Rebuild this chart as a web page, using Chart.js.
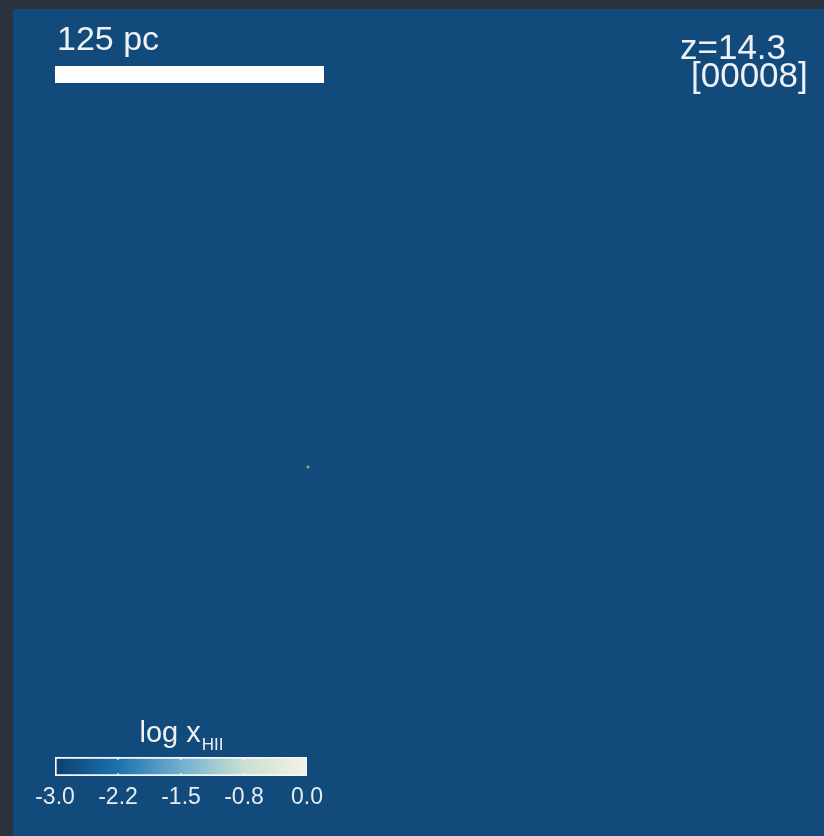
<!DOCTYPE html>
<html>
<head>
<meta charset="utf-8">
<script src="https://cdn.jsdelivr.net/npm/chart.js@4.4.0/dist/chart.umd.min.js"></script>
<style>
  body { margin: 0; background: #2c333e; }
  #wrap { position: relative; width: 824px; height: 836px; overflow: hidden; }
  canvas { position: absolute; }
</style>
</head>
<body>
<div id="wrap">
  <canvas id="slice" width="824" height="836" style="left:0;top:0"></canvas>
  <canvas id="cbar" width="340" height="136" style="left:0;top:700px"></canvas>
</div>
<script>
// snapshot info
const redshift = 14.3;
const snapNum = '00008';

// scale bar length in pc and the one ionised cell (pc, from lower-left of the box)
const scaleBarPc = [125];
const sourcePos = [{ x: 137.1, y: 171.5 }];

// colour bar: log x_HII range, ticks and their labels
const cbarRange = [-3.0, 0.0];
const cbarTicks = [-3.0, -2.25, -1.5, -0.75, 0.0];
const cbarTickLabels = ['-3.0', '-2.2', '-1.5', '-0.8', '0.0'];
const cbarStops = ['#0d3f70', '#1c72ac', '#72afd0', '#cbdfd0', '#f2f3e6'];

// box geometry
const pxPerPc = 269 / 125;
const panel = { left: 13, top: 9, right: 824, bottom: 836 };
const boxW = (panel.right - panel.left) / pxPerPc;
const boxH = (panel.bottom - panel.top) / pxPerPc;
const barX0 = (55 - panel.left) / pxPerPc;
const barY = boxH - (74.5 - panel.top) / pxPerPc;

const FONT = '"Liberation Sans", Arial, sans-serif';
const panelColor = '#124a7b';

const panelBg = {
    id: 'panelBg',
    beforeDraw(chart) {
        const { ctx, chartArea: a } = chart;
        ctx.save();
        ctx.fillStyle = panelColor;
        ctx.fillRect(a.left, a.top, a.right - a.left, a.bottom - a.top);
        ctx.restore();
    }
};

const slabels = {
    id: 'slabels',
    afterDraw(chart) {
        const ctx = chart.ctx;
        ctx.save();
        ctx.fillStyle = '#eef2f6';
        ctx.textAlign = 'left';
        ctx.textBaseline = 'alphabetic';
        ctx.font = '34px ' + FONT;
        ctx.fillText(scaleBarPc[0] + ' pc', 57, 50);
        ctx.font = '35px ' + FONT;
        ctx.fillText('z=' + redshift.toFixed(1), 680, 59);
        ctx.fillText('[' + snapNum + ']', 691, 87);
        ctx.restore();
    }
};

new Chart(document.getElementById('slice'), {
    type: 'scatter',
    data: {
        datasets: [
            {
                // scale bar
                type: 'line',
                data: [{ x: barX0, y: barY }, { x: barX0 + scaleBarPc[0], y: barY }],
                borderColor: '#ffffff',
                borderWidth: 17,
                borderCapStyle: 'butt',
                pointRadius: 0,
            },
            {
                data: sourcePos,
                backgroundColor: 'rgba(170,180,90,0.8)',
                borderWidth: 0,
                pointRadius: 1.6,
            },
        ]
    },
    options: {
        responsive: false,
        animation: false,
        layout: { autoPadding: false, padding: { left: panel.left, top: panel.top, right: 0, bottom: 0 } },
        plugins: { legend: { display: false }, tooltip: { enabled: false } },
        scales: {
            x: { type: 'linear', min: 0, max: boxW, display: false },
            y: { type: 'linear', min: 0, max: boxH, display: false },
        }
    },
    plugins: [panelBg, slabels]
});

function cbarGradient(ctx) {
    const a = ctx.chart.chartArea;
    if (!a) return cbarStops[0];
    const g = ctx.chart.ctx.createLinearGradient(a.left, 0, a.right, 0);
    cbarStops.forEach((c, i) => g.addColorStop(i / (cbarStops.length - 1), c));
    return g;
}

const cbarDeco = {
    id: 'cbarDeco',
    afterDatasetsDraw(chart) {
        const { ctx, chartArea: a } = chart;
        const xs = chart.scales.x;
        ctx.save();
        // little tick marks inside the bar
        ctx.strokeStyle = 'rgba(255,255,255,0.8)';
        ctx.lineWidth = 1.5;
        cbarTicks.slice(1, -1).forEach(v => {
            const px = xs.getPixelForValue(v);
            ctx.beginPath();
            ctx.moveTo(px, a.top); ctx.lineTo(px, a.top + 3);
            ctx.moveTo(px, a.bottom); ctx.lineTo(px, a.bottom - 3);
            ctx.stroke();
        });
        // title: log x_HII
        ctx.fillStyle = '#eef2f6';
        ctx.textBaseline = 'alphabetic';
        const main = 'log x';
        ctx.font = '17px ' + FONT;
        const subW = ctx.measureText('HII').width;
        ctx.font = '29px ' + FONT;
        const mainW = ctx.measureText(main).width;
        const x0 = (a.left + a.right) / 2 - (mainW + subW) / 2;
        ctx.textAlign = 'left';
        ctx.fillText(main, x0, 42);
        ctx.font = '17px ' + FONT;
        ctx.fillText('HII', x0 + mainW + 1, 50);
        ctx.restore();
    }
};

new Chart(document.getElementById('cbar'), {
    type: 'bar',
    data: {
        labels: ['log x_HII'],
        datasets: [{
            data: [cbarRange],
            backgroundColor: cbarGradient,
            borderColor: '#f4f6f8',
            borderWidth: 2,
            borderSkipped: false,
            barPercentage: 1,
            categoryPercentage: 1,
        }]
    },
    options: {
        indexAxis: 'y',
        responsive: false,
        animation: false,
        layout: { autoPadding: false, padding: { left: 55, right: 33, top: 57, bottom: 20 } },
        plugins: { legend: { display: false }, tooltip: { enabled: false } },
        scales: {
            y: { display: false },
            x: {
                type: 'linear',
                min: cbarRange[0],
                max: cbarRange[1],
                grid: { display: false, drawTicks: false },
                border: { display: false },
                afterFit: s => { s.height = 40; },
                afterBuildTicks: s => { s.ticks = cbarTicks.map(v => ({ value: v })); },
                ticks: {
                    color: '#e6ecf2',
                    font: { family: FONT, size: 23 },
                    padding: 8,
                    maxRotation: 0,
                    autoSkip: false,
                    callback: (v, i) => cbarTickLabels[i],
                }
            }
        }
    },
    plugins: [cbarDeco]
});
</script>
</body>
</html>
